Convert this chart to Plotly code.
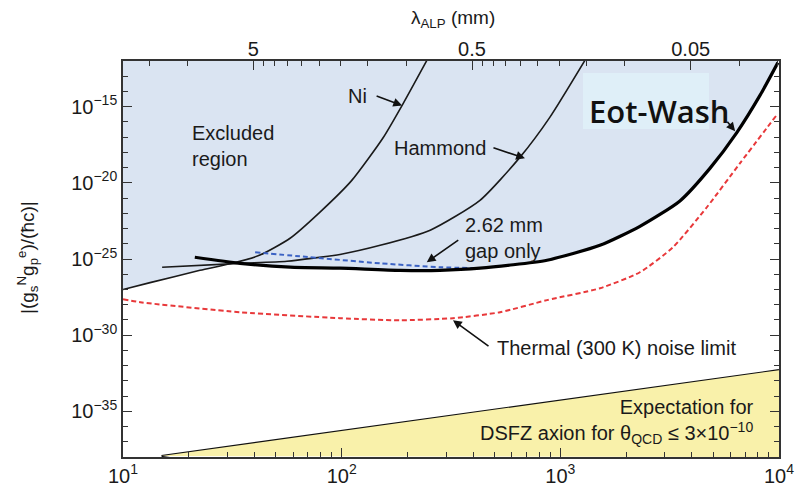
import math
import plotly.graph_objects as go

# ---------------- data (m_ALP in micro-eV, coupling |g_s^N g_p^e|/(hbar c)) ----------------
ni_m = [10, 13.3, 22.5, 31.5, 42.3, 58.1, 79.6, 111, 155, 191, 245]
ni_g = [1.0e-27, 2.8e-27, 1.8e-26, 5.2e-26, 1.8e-25, 2.3e-24, 1.2e-22, 1.4e-20, 9.5e-18, 1.6e-15, 1.07e-12]

hammond_m = [15.1, 34.3, 56.2, 98.2, 150, 254, 429, 653, 895, 1294]
hammond_g = [2.9e-26, 5.2e-26, 7.1e-26, 2.0e-25, 7.9e-25, 7.8e-24, 7.1e-22, 4.7e-19, 2.0e-16, 1.07e-12]

eotwash_m = [21.3, 34.3, 58.1, 98.2, 185, 281, 429, 869, 1517, 2312, 3524, 4831, 6412, 8185, 9886]
eotwash_g = [1.3e-25, 5.2e-26, 2.9e-26, 2.5e-26, 1.8e-26, 1.8e-26, 2.5e-26, 8.3e-26, 7.9e-25,
             1.4e-23, 6.5e-22, 8.9e-20, 2.0e-17, 5.5e-15, 7.9e-13]

gap_m = [40.2, 64.4, 150, 281, 429]
gap_g = [2.8e-25, 1.5e-25, 5.2e-26, 2.9e-26, 2.5e-26]

thermal_m = [10, 12.0, 34.3, 98.2, 185, 323, 530, 869, 1517, 2312, 3273, 4677, 6622, 9886]
thermal_g = [2.3e-28, 1.45e-28, 3.2e-29, 1.3e-29, 9.5e-30, 1.3e-29, 3.2e-29, 2.0e-28, 1.2e-27,
             1.35e-26, 5.9e-25, 2.5e-22, 1.9e-19, 3.6e-16]

dsfz_m = [15, 1e4]
dsfz_g = [1.15e-38, 5.0e-33]

x_major = [10, 100, 1000, 10000]
x_major_text = ["10<sup>1</sup>", "10<sup>2</sup>", "10<sup>3</sup>", "10<sup>4</sup>"]
y_major = [1e-15, 1e-20, 1e-25, 1e-30, 1e-35]
y_major_text = ["10<sup>−15</sup>", "10<sup>−20</sup>", "10<sup>−25</sup>", "10<sup>−30</sup>", "10<sup>−35</sup>"]
lam_major = [5, 0.5, 0.05]
lam_major_text = ["5", "0.5", "0.05"]
lam_minor = [15, 10, 4.5, 4, 3.5, 3, 2.5, 2, 1.5, 1,
             0.45, 0.4, 0.35, 0.3, 0.25, 0.2, 0.15, 0.1, 0.03, 0.02]
HBARC = 197.3  # lambda(mm) = HBARC / m(micro-eV)

X_RANGE = [1, 4]
Y_RANGE = [-38, -12]

# ---------------- layout geometry ----------------
W, H = 808, 504
L, R, T, B = 123, 29, 61, 47
PW, PH = W - L - R, H - T - B


def px(x):
    return (x - L) / PW


def py(y):
    return (H - B - y) / PH


FONT = "Liberation Sans, Arial, sans-serif"
BLUE_FILL = "rgb(218,228,242)"
YELLOW_FILL = "rgb(249,241,170)"
SPL = dict(shape="spline", smoothing=0.6)

fig = go.Figure()

# excluded region: above lower envelope (Ni on the left, Eot-Wash to the right)
cross = 33.0
env_m = [m for m in ni_m if m < cross] + [m for m in eotwash_m if m >= cross]
env_g = [g for m, g in zip(ni_m, ni_g) if m < cross] + [g for m, g in zip(eotwash_m, eotwash_g) if m >= cross]
top = 10 ** Y_RANGE[1]
fig.add_trace(go.Scatter(
    x=env_m + [10 ** X_RANGE[1], 10 ** X_RANGE[1], 10 ** X_RANGE[0]],
    y=env_g + [top, top, top],
    fill="toself", fillcolor=BLUE_FILL, mode="lines", line=dict(width=0, **SPL),
    hoverinfo="skip", showlegend=False))

# DSFZ expectation region
bottom = 10 ** Y_RANGE[0]
fig.add_trace(go.Scatter(
    x=dsfz_m + [dsfz_m[-1]], y=dsfz_g + [bottom],
    fill="toself", fillcolor=YELLOW_FILL, mode="lines", line=dict(width=0),
    hoverinfo="skip", showlegend=False, xaxis="x2"))
fig.add_trace(go.Scatter(x=dsfz_m, y=dsfz_g, mode="lines",
                         line=dict(color="#111", width=2.2), showlegend=False))

# curves
fig.add_trace(go.Scatter(x=ni_m, y=ni_g, mode="lines",
                         line=dict(color="#1a1a1a", width=1.6, **SPL), showlegend=False))
fig.add_trace(go.Scatter(x=hammond_m, y=hammond_g, mode="lines",
                         line=dict(color="#1a1a1a", width=1.6, **SPL), showlegend=False))
fig.add_trace(go.Scatter(x=thermal_m, y=thermal_g, mode="lines",
                         line=dict(color="#e8383a", width=2, dash="5px,3px", **SPL),
                         showlegend=False))
fig.add_trace(go.Scatter(x=gap_m, y=gap_g, mode="lines",
                         line=dict(color="#3b62c4", width=2, dash="5px,3px", **SPL),
                         showlegend=False))
fig.add_trace(go.Scatter(x=eotwash_m, y=eotwash_g, mode="lines",
                         line=dict(color="#000", width=3.2, **SPL), showlegend=False))

# ---------------- axes ----------------
x_minor = [k * d for d in (10, 100, 1000) for k in range(2, 10)]
y_minor = [10.0 ** e for e in range(Y_RANGE[0], Y_RANGE[1] + 1) if e % 5 != 0]
TICKFONT = dict(family=FONT, size=20)

fig.update_layout(
    width=W, height=H,
    margin=dict(l=L, r=R, t=T, b=B),
    paper_bgcolor="white", plot_bgcolor="white",
    font=dict(family=FONT, size=20, color="#1a1a1a"),
    xaxis=dict(type="log", range=X_RANGE, tickvals=x_major, ticktext=x_major_text,
               ticks="inside", ticklen=9, tickwidth=1.3, tickcolor="#333",
               showline=True, linecolor="#333", linewidth=1.6, mirror=True,
               showgrid=False, zeroline=False, tickfont=TICKFONT,
               minor=dict(tickvals=x_minor, ticks="inside", ticklen=5, tickwidth=1.2, tickcolor="#333", showgrid=False)),
    xaxis2=dict(type="log", range=X_RANGE, overlaying="x", side="top",
                tickvals=[HBARC / v for v in lam_major], ticktext=lam_major_text,
                ticks="inside", ticklen=9, tickwidth=1.3, tickcolor="#333",
                showline=False, showgrid=False, zeroline=False, tickfont=TICKFONT,
                minor=dict(tickvals=[HBARC / v for v in lam_minor], ticks="inside", ticklen=5,
                           tickwidth=1.2, tickcolor="#333", showgrid=False)),
    yaxis=dict(type="log", range=Y_RANGE, tickvals=y_major, ticktext=y_major_text,
               ticks="inside", ticklen=9, tickwidth=1.3, tickcolor="#333",
               showline=True, linecolor="#333", linewidth=1.6, mirror="ticks",
               showgrid=False, zeroline=False, tickfont=TICKFONT,
               minor=dict(tickvals=y_minor, ticks="inside", ticklen=5, tickwidth=1.2, tickcolor="#333", showgrid=False)),
)

ann = []


def text(x, y, s, size=20, xanchor="center", yanchor="middle", align="left", **kw):
    font = dict(family=kw.pop("family", FONT), size=size, color=kw.pop("color", "#1a1a1a"))
    if "weight" in kw:
        font["weight"] = kw.pop("weight")
    ann.append(dict(x=px(x), y=py(y), xref="paper", yref="paper", text=s, showarrow=False,
                    xanchor=xanchor, yanchor=yanchor, align=align, font=font, **kw))


def arrow(xv, yv, ax, ay):
    ann.append(dict(x=math.log10(xv), y=math.log10(yv), xref="x", yref="y", ax=ax, ay=ay,
                    text="", showarrow=True, arrowhead=2, arrowsize=1.1, arrowwidth=1.6, arrowcolor="#111"))


# axis titles
text(453, 19, "λ<sub>ALP</sub> (mm)", size=19)
text(450, 505, "m<sub>ALP</sub> (μeV)", size=19, yanchor="top")
text(27, 258, "|(g<sub>s</sub><sup>N</sup>g<sub>p</sub><sup>e</sup>)/(ħc)|", size=19, textangle=-90)

# labels
text(190, 146, "Excluded<br>region", xanchor="left")
text(357, 96, "Ni")
text(440, 148, "Hammond")
text(463, 238, "2.62 mm<br>gap only", xanchor="left")
text(495, 348, "Thermal (300 K) noise limit", xanchor="left")
text(756, 421, "Expectation for<br>DSFZ axion for θ<sub>QCD</sub> ≤ 3×10<sup>−10</sup>",
     xanchor="right", align="right")

# Eot-Wash label box
fig.add_shape(type="rect", xref="paper", yref="paper", x0=px(583), x1=px(709), y0=py(129), y1=py(73),
              fillcolor="rgb(223,239,248)", line=dict(width=0), layer="above")
text(587, 111, "Eot-Wash", size=31, xanchor="left", family="Open Sans, Lato, sans-serif",
     color="#111", weight=600)

# arrows (tips on curves, tails offset in pixels)
arrow(189, 1.2e-15, -27, -10)     # Ni
arrow(689, 4.1e-19, -33, -11)     # Hammond
arrow(245, 6.2e-26, 33, -23)      # gap only
arrow(323, 9.6e-30, 37, 27)       # thermal
arrow(6300, 2.4e-17, -9, -11)     # Eot-Wash

fig.update_layout(annotations=ann)
fig.write_html("out.html")
